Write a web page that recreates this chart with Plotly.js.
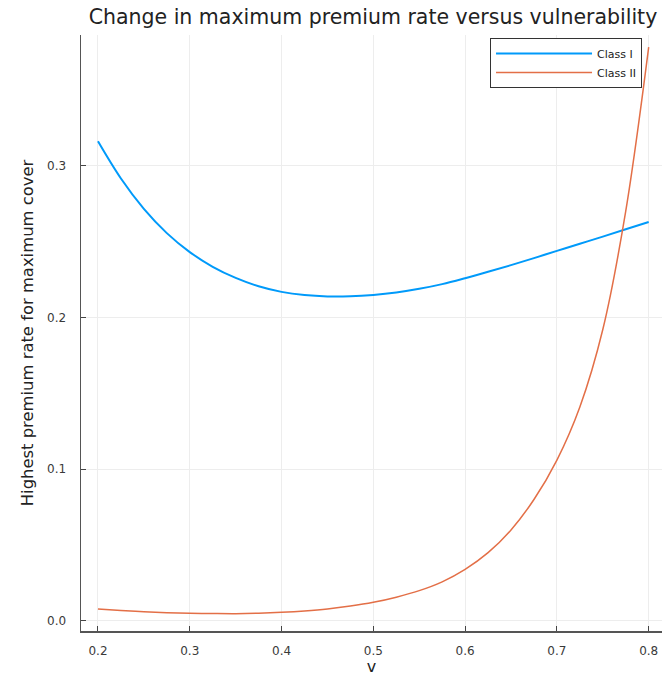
<!DOCTYPE html>
<html>
<head>
<meta charset="utf-8">
<script src="https://cdn.plot.ly/plotly-3.0.1.min.js"></script>
<style>html,body{margin:0;padding:0;background:#fff;}#chart{width:662px;height:676px;}</style>
</head>
<body>
<div id="chart"></div>
<script>
const vValues = [0.2, 0.225, 0.25, 0.275, 0.3, 0.325, 0.35, 0.375, 0.4, 0.425, 0.45, 0.475, 0.5,
                 0.525, 0.55, 0.575, 0.6, 0.625, 0.65, 0.675, 0.7, 0.725, 0.75, 0.775, 0.8];
const classI = [0.316, 0.2915, 0.2715, 0.2555, 0.2430, 0.2333, 0.2260, 0.2205, 0.2168, 0.2147, 0.2138, 0.2139, 0.2148,
                0.2164, 0.2188, 0.2219, 0.2258, 0.2300, 0.2344, 0.2390, 0.2438, 0.2485, 0.2532, 0.2580, 0.2628];
const classII = [0.0079, 0.0069, 0.0061, 0.0055, 0.0051, 0.0049, 0.0048, 0.0051, 0.0057, 0.0066, 0.0079, 0.0098, 0.0123,
                 0.0157, 0.0200, 0.0258, 0.0340, 0.0450, 0.0600, 0.0800, 0.1060, 0.1410, 0.1920, 0.2700, 0.3780];
const seriesNames = ["Class I", "Class II"];
const xTickVals = [0.2, 0.3, 0.4, 0.5, 0.6, 0.7, 0.8];
const xTickText = ["0.2", "0.3", "0.4", "0.5", "0.6", "0.7", "0.8"];
const yTickVals = [0.0, 0.1, 0.2, 0.3];
const yTickText = ["0.0", "0.1", "0.2", "0.3"];

const FONT = "DejaVu Sans, sans-serif";
const traces = [
  {x: vValues, y: classI, name: seriesNames[0], type: "scatter", mode: "lines",
   line: {color: "#009AFA", width: 2, shape: "spline", smoothing: 1}},
  {x: vValues, y: classII, name: seriesNames[1], type: "scatter", mode: "lines",
   line: {color: "#E36F47", width: 1.5, shape: "spline", smoothing: 1}}
];
const axisCommon = {
  showline: true, linecolor: "#555", linewidth: 1.5, mirror: false,
  ticks: "inside", ticklen: 5, tickwidth: 1, tickcolor: "#444",
  showgrid: true, gridcolor: "#ededed", gridwidth: 1, zeroline: false,
  tickfont: {family: FONT, size: 12, color: "#3a3a3a"}
};
const layout = {
  width: 662, height: 676,
  margin: {l: 81, r: 0, t: 35, b: 45},
  paper_bgcolor: "#fff", plot_bgcolor: "#fff",
  title: {text: "Change in maximum premium rate versus vulnerability",
          font: {family: FONT, size: 20.5, color: "#222"},
          xref: "container", x: 0.5634, xanchor: "center",
          yref: "container", y: 0.975, yanchor: "middle"},
  xaxis: Object.assign({}, axisCommon, {
    range: [0.1815, 0.8145], tickvals: xTickVals, ticktext: xTickText,
    ticklabelstandoff: 8,
    title: {text: "v", font: {family: FONT, size: 16, color: "#222"}, standoff: 3}
  }),
  yaxis: Object.assign({}, axisCommon, {
    range: [-0.0066, 0.386], tickvals: yTickVals, ticktext: yTickText,
    ticklabelstandoff: 11,
    title: {text: "Highest premium rate for maximum cover", font: {family: FONT, size: 16.4, color: "#222"}, standoff: 9}
  }),
  showlegend: true,
  legend: {x: 0.704, y: 0.995, xanchor: "left", yanchor: "top",
           bgcolor: "#fff", bordercolor: "#333", borderwidth: 1,
           font: {family: FONT, size: 11, color: "#222"},
           itemwidth: 96, tracegroupgap: 0}
};
Plotly.newPlot("chart", traces, layout, {displayModeBar: false, staticPlot: true});
</script>
</body>
</html>
